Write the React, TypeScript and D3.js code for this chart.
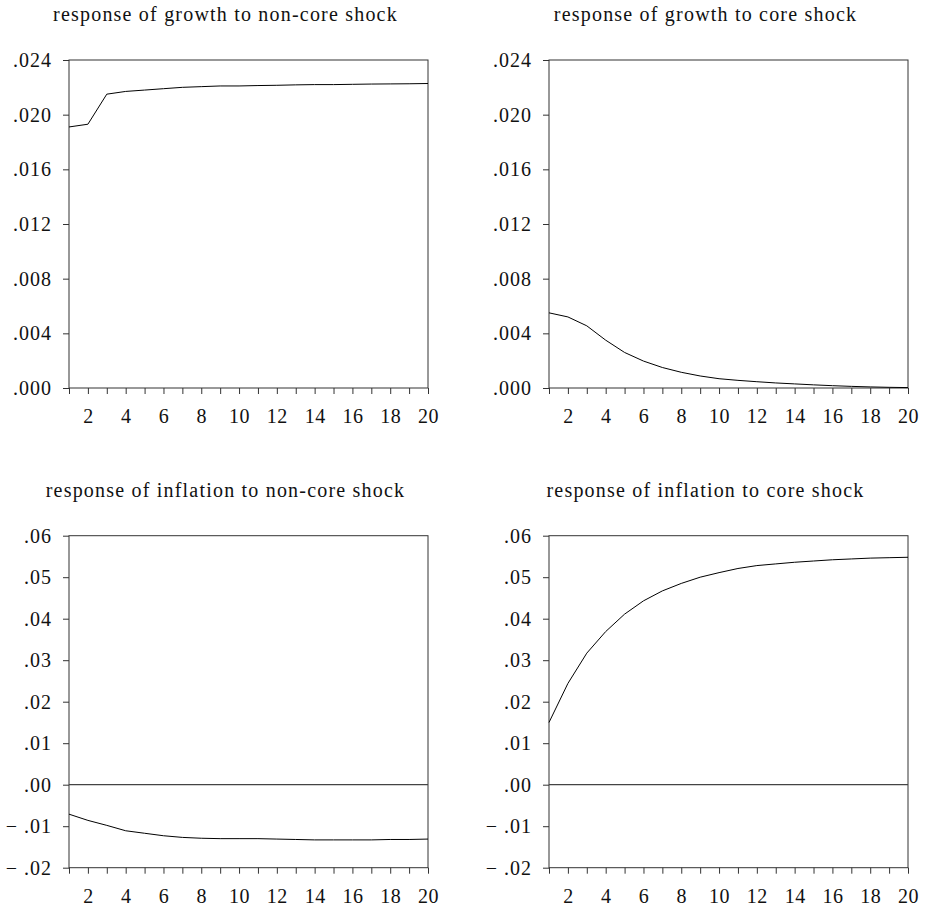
import React, { useEffect, useRef } from 'react';
import * as d3 from 'd3';

// horizon (periods after the shock)
const periods = [1, 2, 3, 4, 5, 6, 7, 8, 9, 10, 11, 12, 13, 14, 15, 16, 17, 18, 19, 20];
const xTickLabels = [2, 4, 6, 8, 10, 12, 14, 16, 18, 20];

const growthNonCore = [0.0191, 0.0193, 0.0215, 0.0217, 0.0218, 0.0219, 0.0220, 0.02205, 0.0221, 0.0221,
    0.02213, 0.02215, 0.02218, 0.0222, 0.0222, 0.02222, 0.02224, 0.02225, 0.02226, 0.02228];
const growthCore = [0.0055, 0.0052, 0.00455, 0.0035, 0.0026, 0.00197, 0.0015, 0.00115, 0.00088, 0.00068,
    0.00056, 0.00046, 0.00037, 0.0003, 0.00023, 0.00017, 0.00012, 0.00008, 0.00005, 0.00003];
const inflationNonCore = [-0.0071, -0.0086, -0.0098, -0.0111, -0.0117, -0.0123, -0.0127, -0.0129, -0.0130, -0.0130,
    -0.0130, -0.0131, -0.0132, -0.0133, -0.0133, -0.0133, -0.0133, -0.0132, -0.0132, -0.0131];
const inflationCore = [0.0150, 0.0244, 0.0317, 0.0369, 0.0411, 0.0443, 0.0467, 0.0485, 0.0500, 0.0511,
    0.0521, 0.0528, 0.0532, 0.0536, 0.0539, 0.0542, 0.0544, 0.0546, 0.0547, 0.0548];

const growthTicks = [0, 0.004, 0.008, 0.012, 0.016, 0.020, 0.024];
const inflationTicks = [-0.02, -0.01, 0, 0.01, 0.02, 0.03, 0.04, 0.05, 0.06];

const titles = [
    'response of growth to non-core shock',
    'response of growth to core shock',
    'response of inflation to non-core shock',
    'response of inflation to core shock'
];

const FONT = 'Liberation Serif';

const App = () => {
    const svgRef = useRef<SVGSVGElement>(null);

    useEffect(() => {
        const width = 929;
        const height = 911;

        const svg = d3.select(svgRef.current);
        svg.selectAll('*').remove();
        svg.attr('width', width).attr('height', height)
            .attr('font-family', FONT);

        // format like ".024" / "− .01"
        const fmt = (digits: number) => (d: number) => {
            const s = Math.abs(d).toFixed(digits).replace(/^0/, '');
            return d < 0 ? '\u2212 ' + s : s;
        };

        const panels = [
            { title: titles[0], values: growthNonCore, ticks: growthTicks, domain: [0, 0.024], digits: 3,
              left: 69, right: 428, top: 60, bottom: 388, titleY: 21, zero: false },
            { title: titles[1], values: growthCore, ticks: growthTicks, domain: [0, 0.024], digits: 3,
              left: 549, right: 908, top: 60, bottom: 388, titleY: 21, zero: false },
            { title: titles[2], values: inflationNonCore, ticks: inflationTicks, domain: [-0.02, 0.06], digits: 2,
              left: 69, right: 428, top: 535.7, bottom: 867.7, titleY: 497, zero: true },
            { title: titles[3], values: inflationCore, ticks: inflationTicks, domain: [-0.02, 0.06], digits: 2,
              left: 549, right: 908, top: 535.7, bottom: 867.7, titleY: 497, zero: true }
        ];

        panels.forEach(p => {
            const xScale = d3.scaleLinear().domain([1, 20]).range([p.left, p.right]);
            const yScale = d3.scaleLinear().domain(p.domain).range([p.bottom, p.top]);
            const g = svg.append('g');

            g.append('text')
                .attr('x', (p.left + p.right) / 2 - 23)
                .attr('y', p.titleY)
                .attr('text-anchor', 'middle')
                .attr('font-family', FONT)
                .attr('font-size', 20)
                .attr('letter-spacing', 1.2)
                .attr('fill', '#111')
                .text(p.title);

            // frame
            g.append('rect')
                .attr('x', p.left)
                .attr('y', p.top)
                .attr('width', p.right - p.left)
                .attr('height', p.bottom - p.top)
                .attr('fill', 'none')
                .attr('stroke', '#333')
                .attr('stroke-width', 1);

            // y axis
            const yAxis = g.append('g')
                .attr('transform', `translate(${p.left},0)`)
                .call(d3.axisLeft(yScale).tickValues(p.ticks).tickSize(6).tickPadding(11)
                    .tickFormat(d => fmt(p.digits)(+d)));
            yAxis.attr('font-family', FONT).attr('font-size', 20);
            yAxis.select('.domain').remove();
            yAxis.selectAll('line').attr('stroke', '#333');
            yAxis.selectAll('text')
                .attr('letter-spacing', 1)
                .attr('fill', '#111');

            // x axis: a tick at every period, labels on even ones
            const xAxis = g.append('g')
                .attr('transform', `translate(0,${p.bottom})`)
                .call(d3.axisBottom(xScale).tickValues(periods).tickSize(6).tickPadding(15)
                    .tickFormat(d => (xTickLabels.includes(+d) ? String(d) : '')));
            xAxis.attr('font-family', FONT).attr('font-size', 20);
            xAxis.select('.domain').remove();
            xAxis.selectAll('line').attr('stroke', '#333');
            xAxis.selectAll('text')
                .attr('letter-spacing', 0.5)
                .attr('fill', '#111');

            if (p.zero) {
                g.append('line')
                    .attr('x1', p.left)
                    .attr('x2', p.right)
                    .attr('y1', yScale(0))
                    .attr('y2', yScale(0))
                    .attr('stroke', '#444')
                    .attr('stroke-width', 1.2);
            }

            const line = d3.line<number>()
                .x((_, i) => xScale(periods[i]))
                .y(d => yScale(d));

            g.append('path')
                .datum(p.values)
                .attr('d', line)
                .attr('fill', 'none')
                .attr('stroke', '#000')
                .attr('stroke-width', 1);
        });
    }, []);

    return (
        <div style={{ position: 'absolute', left: 0, top: 0, width: 929, height: 911, background: '#fff' }}>
            <svg ref={svgRef} style={{ display: 'block' }}></svg>
        </div>
    );
};

export default App;
